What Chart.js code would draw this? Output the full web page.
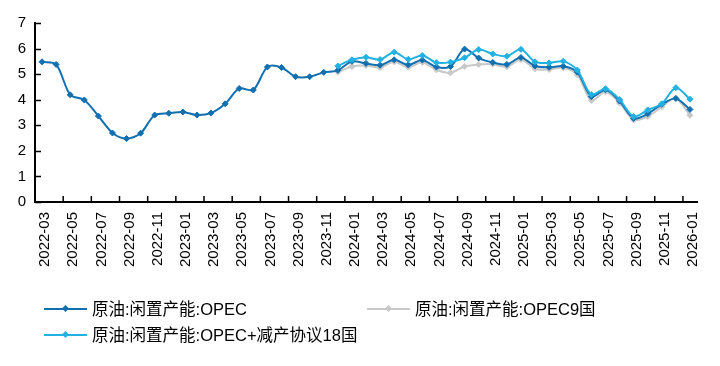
<!DOCTYPE html>
<html>

<head>
    <title>原油:闲置产能</title>
    <style>
        body {
            margin: 0;
            background: #fff;
        }

        #wrap {
            position: relative;
            width: 720px;
            height: 366px;
        }

        .legend-item {
            position: absolute;
            height: 20px;
            font-family: "Liberation Sans", "Noto Sans CJK SC", sans-serif;
            font-size: 16.5px;
            color: #000;
            white-space: nowrap;
        }

        .legend-item .line {
            position: absolute;
            top: 9px;
            width: 43px;
            height: 2px;
        }

        .legend-item .dot {
            position: absolute;
            top: 7px;
            left: 19px;
            width: 5px;
            height: 5px;
            transform: rotate(45deg);
        }

        .legend-item .txt {
            position: absolute;
            left: 48px;
            top: 0;
            line-height: 20px;
        }
    </style>
    <script src="https://cdn.jsdelivr.net/npm/chart.js"></script>
</head>

<body>
    <div id="wrap">
        <canvas id="myChart" width="720" height="366"></canvas>

        <div class="legend-item" style="left:44px; top:299px;">
            <div class="line" style="background:#1270b0"></div>
            <div class="dot" style="background:#1270b0"></div>
            <span class="txt">原油:闲置产能:OPEC</span>
        </div>
        <div class="legend-item" style="left:367px; top:299px;">
            <div class="line" style="background:#c8c8c8"></div>
            <div class="dot" style="background:#c8c8c8"></div>
            <span class="txt">原油:闲置产能:OPEC9国</span>
        </div>
        <div class="legend-item" style="left:44px; top:325px;">
            <div class="line" style="background:#22b2e2"></div>
            <div class="dot" style="background:#22b2e2"></div>
            <span class="txt">原油:闲置产能:OPEC+减产协议18国</span>
        </div>
    </div>

    <script>
        // months on the x axis
        const months = [
            '2022-03', '2022-04', '2022-05', '2022-06', '2022-07', '2022-08', '2022-09', '2022-10', '2022-11', '2022-12',
            '2023-01', '2023-02', '2023-03', '2023-04', '2023-05', '2023-06', '2023-07', '2023-08', '2023-09', '2023-10',
            '2023-11', '2023-12', '2024-01', '2024-02', '2024-03', '2024-04', '2024-05', '2024-06', '2024-07', '2024-08',
            '2024-09', '2024-10', '2024-11', '2024-12', '2025-01', '2025-02', '2025-03', '2025-04', '2025-05', '2025-06',
            '2025-07', '2025-08', '2025-09', '2025-10', '2025-11', '2025-12', '2026-01'
        ];

        // y axis ticks
        const yTicks = [0, 1, 2, 3, 4, 5, 6, 7];

        // 原油:闲置产能:OPEC
        const opec = [
            5.48, 5.38, 4.19, 3.99, 3.36, 2.70, 2.48, 2.69, 3.40, 3.47,
            3.52, 3.40, 3.48, 3.84, 4.44, 4.38, 5.28, 5.26, 4.90, 4.90,
            5.07, 5.15, 5.50, 5.42, 5.35, 5.56, 5.36, 5.55, 5.28, 5.30,
            5.98, 5.63, 5.46, 5.38, 5.65, 5.32, 5.27, 5.31, 5.08, 4.12,
            4.39, 3.95, 3.27, 3.45, 3.82, 4.05, 3.62
        ];

        // 原油:闲置产能:OPEC9国 (starts 2023-12)
        const opec9 = [
            null, null, null, null, null, null, null, null, null, null,
            null, null, null, null, null, null, null, null, null, null,
            null, 5.08, 5.30, 5.34, 5.26, 5.48, 5.27, 5.46, 5.17, 5.05,
            5.30, 5.38, 5.39, 5.29, 5.57, 5.21, 5.18, 5.25, 4.98, 3.97,
            4.31, 3.87, 3.21, 3.34, 3.72, 4.06, 3.39
        ];

        // 原油:闲置产能:OPEC+减产协议18国 (starts 2023-12)
        const opecPlus18 = [
            null, null, null, null, null, null, null, null, null, null,
            null, null, null, null, null, null, null, null, null, null,
            null, 5.32, 5.56, 5.66, 5.57, 5.86, 5.58, 5.73, 5.45, 5.47,
            5.64, 5.96, 5.79, 5.70, 5.97, 5.48, 5.44, 5.50, 5.16, 4.20,
            4.43, 4.01, 3.34, 3.60, 3.84, 4.47, 4.02
        ];

        const FONT = '"Liberation Sans", "Noto Sans CJK SC", sans-serif';

        // small inward tick marks, like the original
        const innerTicks = {
            id: 'innerTicks',
            afterDraw(chart) {
                const c = chart.ctx;
                const x = chart.scales.x;
                const y = chart.scales.y;
                const area = chart.chartArea;
                c.save();
                c.strokeStyle = '#000';
                c.lineWidth = 1.5;
                c.beginPath();
                yTicks.forEach(v => {
                    const py = Math.round(y.getPixelForValue(v)) + 0.5;
                    c.moveTo(area.left, py);
                    c.lineTo(area.left + 6, py);
                });
                for (let i = 2; i < months.length; i += 2) {
                    const px = (x.getPixelForValue(i - 1) + x.getPixelForValue(i)) / 2;
                    c.moveTo(px, area.bottom);
                    c.lineTo(px, area.bottom - 6);
                }
                c.stroke();
                c.restore();
            }
        };

        const ctx = document.getElementById('myChart').getContext('2d');

        const myChart = new Chart(ctx, {
            type: 'line',
            data: {
                labels: months,
                datasets: [{
                    label: '原油:闲置产能:OPEC',
                    data: opec,
                    borderColor: '#1270b0',
                    backgroundColor: '#1270b0',
                    order: 1
                }, {
                    label: '原油:闲置产能:OPEC9国',
                    data: opec9,
                    borderColor: '#c8c8c8',
                    backgroundColor: '#c8c8c8',
                    order: 2
                }, {
                    label: '原油:闲置产能:OPEC+减产协议18国',
                    data: opecPlus18,
                    borderColor: '#22b2e2',
                    backgroundColor: '#22b2e2',
                    order: 0
                }]
            },
            options: {
                responsive: false,
                animation: false,
                spanGaps: false,
                elements: {
                    line: {
                        borderWidth: 2,
                        tension: 0.3
                    },
                    point: {
                        pointStyle: 'rectRot',
                        radius: 3,
                        borderWidth: 1
                    }
                },
                layout: {
                    padding: { left: 0, right: 23, top: 23, bottom: 94 }
                },
                plugins: {
                    legend: { display: false },
                    tooltip: { enabled: false }
                },
                scales: {
                    x: {
                        offset: true,
                        grid: { display: false, drawTicks: false },
                        border: { display: true, color: '#000', width: 2 },
                        ticks: {
                            autoSkip: false,
                            minRotation: 90,
                            maxRotation: 90,
                            padding: 10,
                            labelOffset: 3,
                            color: '#000',
                            font: { family: FONT, size: 15 },
                            callback: (v, i) => i % 2 === 0 ? months[i] : ''
                        },
                        afterFit(scale) {
                            scale.height = 70;
                        }
                    },
                    y: {
                        min: 0,
                        max: 7,
                        grid: { display: false, drawTicks: false },
                        border: { display: true, color: '#000', width: 2 },
                        ticks: {
                            stepSize: 1,
                            padding: 9,
                            color: '#000',
                            font: { family: FONT, size: 15 }
                        },
                        afterFit(scale) {
                            scale.width = 35;
                        }
                    }
                }
            },
            plugins: [innerTicks]
        });
    </script>
</body>

</html>
